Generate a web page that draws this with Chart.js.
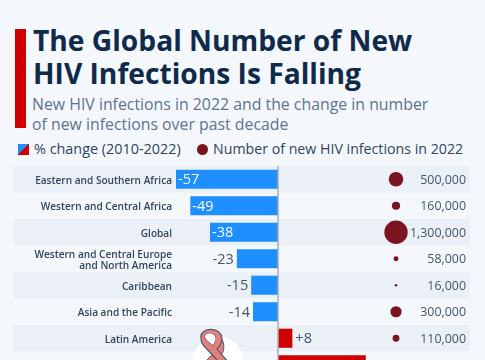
<!DOCTYPE html>
<html>
<head>
<meta charset="utf-8">
<script src="https://cdn.jsdelivr.net/npm/chart.js@4"></script>
<style>
html, body { margin: 0; padding: 0; width: 485px; height: 360px; overflow: hidden; background: #f4f7fb; }
body { position: relative; font-family: "Open Sans", sans-serif; }
.abs { position: absolute; white-space: nowrap; }
#bar { left: 15px; top: 29px; width: 11px; height: 99px; background: #d00000; }
#title { left: 33px; top: 24px; font-size: 28.2px; line-height: 33px; font-weight: 700; color: #0f2a4a; }
#sub { left: 32px; top: 94px; font-size: 15.85px; line-height: 20px; color: #5c7391; }
.lg { top: 139px; line-height: 20px; color: #2f4560; }
#lg1 { left: 34px; font-size: 14.4px; }
#lg2 { left: 213px; font-size: 14.2px; }
#swatch { left: 18px; top: 144px; width: 11px; height: 11px; background: linear-gradient(to bottom right, #1f8fff 50%, #d00000 50%); }
#dot { left: 197px; top: 144px; width: 11px; height: 11px; border-radius: 50%; background: #7a1420; }
#wrap { left: 0; top: 166px; width: 485px; height: 212px; }
#ribbon { left: 190px; top: 325px; }
</style>
</head>
<body>
<div class="abs" id="bar"></div>
<div class="abs" id="title">The Global Number of New<br>HIV Infections Is Falling</div>
<div class="abs" id="sub">New HIV infections in 2022 and the change in number<br>of new infections over past decade</div>
<div class="abs" id="swatch"></div>
<div class="abs lg" id="lg1">% change (2010-2022)</div>
<div class="abs" id="dot"></div>
<div class="abs lg" id="lg2">Number of new HIV infections in 2022</div>
<div class="abs" id="wrap"><canvas id="chart" width="485" height="212"></canvas></div>
<svg class="abs" id="ribbon" width="60" height="35" viewBox="0 0 60 35">
  <circle cx="28" cy="36" r="25" fill="#fff"/>
  <path d="M31 13 C30 19 27 24 22 30 L15 37 L26 37 L32 29 C35 24 34 16 31 13 Z" fill="#e57f7f" stroke="#4a5a6e" stroke-width="1"/>
  <path d="M11 13 C9 2 31 1 32 13 C32 18 30 21 27 24 C29 27 34 32 38 37 L29 37 L14 21 C12 19 11 16 11 13 Z M15 11 C15 14 20 18 23 20 C25 17 27 13 24 10 C21 8 16 8 15 11 Z" fill="#e57f7f" fill-rule="evenodd" stroke="#4a5a6e" stroke-width="1.2"/>
  <path d="M15 11 C15 14 20 18 23 20 C25 17 27 13 24 10 C21 8 16 8 15 11 Z" fill="#fff"/>
</svg>
<script>
const regions = [
    "Eastern and Southern Africa",
    "Western and Central Africa",
    "Global",
    ["Western and Central Europe", "and North America"],
    "Caribbean",
    "Asia and the Pacific",
    "Latin America",
    "Eastern Europe and Central Asia"
];
const changePct = [-57, -49, -38, -23, -15, -14, 8, 49];
const newInfections = [500000, 160000, 1300000, 58000, 16000, 300000, 110000, 160000];

const BLUE = "#1f8fff";
const RED = "#d00000";
const fmtPct = v => (v > 0 ? "+" : "") + v;

// row stripes behind everything, so before the axis gets drawn
const stripes = {
    id: "stripes",
    beforeDraw(chart) {
        const { ctx, scales: { y } } = chart;
        const rowH = y.getPixelForValue(1) - y.getPixelForValue(0);
        ctx.save();
        ctx.fillStyle = "#ebeff6";
        regions.forEach((r, i) => {
            if (i % 2 === 0) ctx.fillRect(14, y.getPixelForValue(i) - rowH / 2, 456, rowH);
        });
        ctx.restore();
    }
};

// zero line plus the value labels
const labels = {
    id: "labels",
    afterDatasetsDraw(chart) {
        const { ctx, scales: { x, y } } = chart;
        ctx.save();
        ctx.strokeStyle = "#a3adb9";
        ctx.lineWidth = 1.5;
        ctx.beginPath();
        ctx.moveTo(x.getPixelForValue(0), 0);
        ctx.lineTo(x.getPixelForValue(0), chart.height);
        ctx.stroke();

        ctx.textBaseline = "middle";
        ctx.font = "14.5px 'Open Sans'";
        changePct.forEach((v, i) => {
            const py = y.getPixelForValue(i) + 1;
            const px = x.getPixelForValue(v);
            const inside = Math.abs(v) > 30;
            ctx.fillStyle = inside ? "#fff" : "#44566c";
            if (v < 0) {
                ctx.textAlign = inside ? "left" : "right";
                ctx.fillText(fmtPct(v), px + (inside ? 2 : -3), py);
            } else {
                ctx.textAlign = inside ? "right" : "left";
                ctx.fillText(fmtPct(v), px + (inside ? -3 : 3), py);
            }
        });

        ctx.font = "12.4px 'Open Sans'";
        ctx.fillStyle = "#44566c";
        ctx.textAlign = "right";
        newInfections.forEach((v, i) => {
            ctx.fillText(v.toLocaleString("en-US"), 466, y.getPixelForValue(i) + 1);
        });
        ctx.restore();
    }
};

new Chart(document.getElementById("chart"), {
    data: {
        labels: regions,
        datasets: [{
            type: "bar",
            data: changePct,
            backgroundColor: changePct.map(v => v < 0 ? BLUE : RED),
            barPercentage: 0.72,
            categoryPercentage: 1,
            xAxisID: "x",
            yAxisID: "y",
            order: 2
        }, {
            type: "bubble",
            // x2 is a 0..1 scale that only places the bubble column
            data: newInfections.map((v, i) => ({ x: 0.712, y: i, v })),
            backgroundColor: "#7a1420",
            borderWidth: 0,
            radius: c => Math.sqrt(c.raw.v / 1300000) * 11.7,
            xAxisID: "x2",
            yAxisID: "y",
            order: 1
        }]
    },
    plugins: [stripes, labels],
    options: {
        indexAxis: "y",
        responsive: false,
        animation: false,
        events: [],
        layout: { padding: 0, autoPadding: false },
        plugins: { legend: { display: false }, tooltip: { enabled: false } },
        scales: {
            x: {
                type: "linear",
                min: -57,
                max: 115.6,
                position: "top",
                display: false
            },
            x2: {
                type: "linear",
                min: 0,
                max: 1,
                display: false
            },
            y: {
                type: "category",
                border: { display: false },
                grid: { display: false, drawTicks: false },
                ticks: {
                    color: "#33465f",
                    font: { family: "'Open Sans'", size: 10.1, weight: "600", lineHeight: 1.1 },
                    padding: 4,
                    labelOffset: 1.5,
                    autoSkip: false
                },
                afterFit(scale) {
                    scale.width = 176;
                    // tick label height otherwise eats into the row pitch
                    scale.paddingTop = 0;
                    scale.paddingBottom = 0;
                }
            }
        }
    }
});
</script>
</body>
</html>
